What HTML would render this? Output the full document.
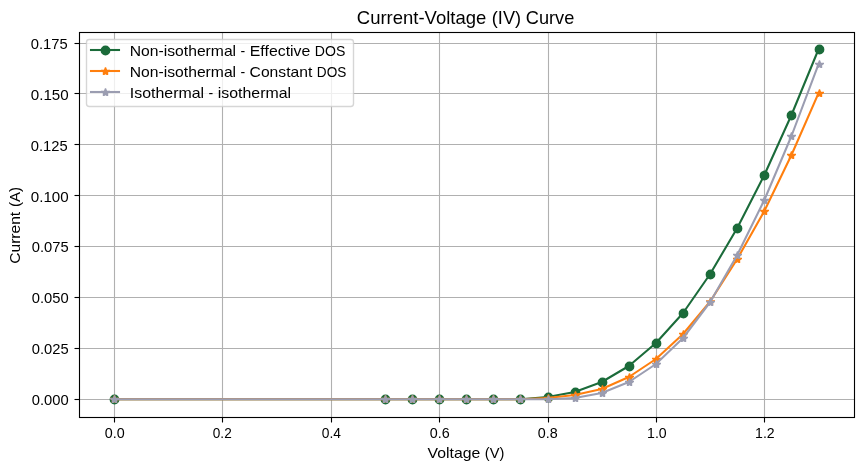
<!DOCTYPE html>
<html lang="en"><head><meta charset="utf-8"><title>Current-Voltage (IV) Curve</title>
<style>html,body{margin:0;padding:0;background:#fff;}body{width:863px;height:470px;overflow:hidden;}svg{display:block;will-change:transform;}text{font-family:"Liberation Sans",sans-serif;fill:#000;}</style>
</head><body>
<svg width="863" height="470" viewBox="0 0 863 470">
<defs><polygon id="st" points="-0.6,-4.25 0.6,-4.25 1.55,-1.68 4.5,-1.68 4.5,-0.5 2.7,0.7 2.7,3.4 1.2,3.4 0,2.75 -1.2,3.4 -2.7,3.4 -2.7,0.7 -4.5,-0.5 -4.5,-1.68 -1.55,-1.68" stroke="none"/>
<circle id="ci" r="4.2" stroke-width="1.389"/></defs>
<rect width="863" height="470" fill="#fff"/>
<g stroke="#b0b0b0" stroke-width="1.11" fill="none">
<line x1="114.5" y1="32.5" x2="114.5" y2="417.5"/>
<line x1="222.5" y1="32.5" x2="222.5" y2="417.5"/>
<line x1="331.5" y1="32.5" x2="331.5" y2="417.5"/>
<line x1="439.5" y1="32.5" x2="439.5" y2="417.5"/>
<line x1="548.5" y1="32.5" x2="548.5" y2="417.5"/>
<line x1="656.5" y1="32.5" x2="656.5" y2="417.5"/>
<line x1="764.5" y1="32.5" x2="764.5" y2="417.5"/>
<line x1="79.5" y1="43.5" x2="854.5" y2="43.5"/>
<line x1="79.5" y1="93.5" x2="854.5" y2="93.5"/>
<line x1="79.5" y1="144.5" x2="854.5" y2="144.5"/>
<line x1="79.5" y1="195.5" x2="854.5" y2="195.5"/>
<line x1="79.5" y1="246.5" x2="854.5" y2="246.5"/>
<line x1="79.5" y1="297.5" x2="854.5" y2="297.5"/>
<line x1="79.5" y1="348.5" x2="854.5" y2="348.5"/>
<line x1="79.5" y1="399.5" x2="854.5" y2="399.5"/>
</g>
<g stroke="#000" stroke-width="1.11" fill="none">
<line x1="114.5" y1="417" x2="114.5" y2="422.5"/>
<line x1="222.5" y1="417" x2="222.5" y2="422.5"/>
<line x1="331.5" y1="417" x2="331.5" y2="422.5"/>
<line x1="439.5" y1="417" x2="439.5" y2="422.5"/>
<line x1="548.5" y1="417" x2="548.5" y2="422.5"/>
<line x1="656.5" y1="417" x2="656.5" y2="422.5"/>
<line x1="764.5" y1="417" x2="764.5" y2="422.5"/>
<line x1="74.5" y1="43.5" x2="80" y2="43.5"/>
<line x1="74.5" y1="93.5" x2="80" y2="93.5"/>
<line x1="74.5" y1="144.5" x2="80" y2="144.5"/>
<line x1="74.5" y1="195.5" x2="80" y2="195.5"/>
<line x1="74.5" y1="246.5" x2="80" y2="246.5"/>
<line x1="74.5" y1="297.5" x2="80" y2="297.5"/>
<line x1="74.5" y1="348.5" x2="80" y2="348.5"/>
<line x1="74.5" y1="399.5" x2="80" y2="399.5"/>
</g>
<polyline points="114.01,399.22 384.99,399.22 412.09,399.22 439.18,399.22 466.28,399.22 493.38,399.22 520.48,399.22 547.58,397.00 574.67,392.00 601.77,382.00 628.87,366.00 655.97,343.00 683.07,313.00 710.16,274.00 737.26,228.00 764.36,175.00 791.46,115.00 818.56,49.22" fill="none" stroke="#1b6b3a" stroke-width="2.083" stroke-linejoin="round" stroke-linecap="square"/>
<g fill="#1b6b3a" stroke="#1b6b3a">
<use href="#ci" x="114.5" y="399.5"/>
<use href="#ci" x="385.5" y="399.5"/>
<use href="#ci" x="412.5" y="399.5"/>
<use href="#ci" x="439.5" y="399.5"/>
<use href="#ci" x="466.5" y="399.5"/>
<use href="#ci" x="493.5" y="399.5"/>
<use href="#ci" x="520.5" y="399.5"/>
<use href="#ci" x="548.5" y="397.5"/>
<use href="#ci" x="575.5" y="392.5"/>
<use href="#ci" x="602.5" y="382.5"/>
<use href="#ci" x="629.5" y="366.5"/>
<use href="#ci" x="656.5" y="343.5"/>
<use href="#ci" x="683.5" y="313.5"/>
<use href="#ci" x="710.5" y="274.5"/>
<use href="#ci" x="737.5" y="228.5"/>
<use href="#ci" x="764.5" y="175.5"/>
<use href="#ci" x="791.5" y="115.5"/>
<use href="#ci" x="819.5" y="49.5"/>
</g>
<polyline points="114.01,399.22 384.99,399.22 412.09,399.22 439.18,399.22 466.28,399.22 493.38,399.22 520.48,399.22 547.58,398.00 574.67,395.00 601.77,389.00 628.87,377.00 655.97,359.00 683.07,334.00 710.16,301.50 737.26,259.00 764.36,211.00 791.46,155.00 818.56,93.00" fill="none" stroke="#ff7f0e" stroke-width="2.083" stroke-linejoin="round" stroke-linecap="square"/>
<g fill="#ff7f0e" stroke="#ff7f0e">
<use href="#st" x="114.5" y="399.5"/>
<use href="#st" x="385.5" y="399.5"/>
<use href="#st" x="412.5" y="399.5"/>
<use href="#st" x="439.5" y="399.5"/>
<use href="#st" x="466.5" y="399.5"/>
<use href="#st" x="493.5" y="399.5"/>
<use href="#st" x="520.5" y="399.5"/>
<use href="#st" x="548.5" y="398.5"/>
<use href="#st" x="575.5" y="395.5"/>
<use href="#st" x="602.5" y="389.5"/>
<use href="#st" x="629.5" y="377.5"/>
<use href="#st" x="656.5" y="359.5"/>
<use href="#st" x="683.5" y="334.5"/>
<use href="#st" x="710.5" y="302.0"/>
<use href="#st" x="737.5" y="259.5"/>
<use href="#st" x="764.5" y="211.5"/>
<use href="#st" x="791.5" y="155.5"/>
<use href="#st" x="819.5" y="93.5"/>
</g>
<polyline points="114.01,399.22 384.99,399.22 412.09,399.22 439.18,399.22 466.28,399.22 493.38,399.22 520.48,399.22 547.58,399.22 574.67,398.00 601.77,393.00 628.87,382.00 655.97,364.00 683.07,338.00 710.16,302.00 737.26,255.00 764.36,200.00 791.46,136.00 818.56,64.00" fill="none" stroke="#9b9db1" stroke-width="2.083" stroke-linejoin="round" stroke-linecap="square"/>
<g fill="#9b9db1" stroke="#9b9db1">
<use href="#st" x="114.5" y="399.5"/>
<use href="#st" x="385.5" y="399.5"/>
<use href="#st" x="412.5" y="399.5"/>
<use href="#st" x="439.5" y="399.5"/>
<use href="#st" x="466.5" y="399.5"/>
<use href="#st" x="493.5" y="399.5"/>
<use href="#st" x="520.5" y="399.5"/>
<use href="#st" x="548.5" y="399.5"/>
<use href="#st" x="575.5" y="398.5"/>
<use href="#st" x="602.5" y="393.5"/>
<use href="#st" x="629.5" y="382.5"/>
<use href="#st" x="656.5" y="364.5"/>
<use href="#st" x="683.5" y="338.5"/>
<use href="#st" x="710.5" y="302.5"/>
<use href="#st" x="737.5" y="255.5"/>
<use href="#st" x="764.5" y="200.5"/>
<use href="#st" x="791.5" y="136.5"/>
<use href="#st" x="819.5" y="64.5"/>
</g>
<rect x="79.5" y="32.5" width="775" height="385" fill="none" stroke="#000" stroke-width="1.11" stroke-linejoin="miter"/>
<rect x="86.5" y="39.5" width="267" height="67" rx="2.78" ry="2.78" fill="#fff" fill-opacity="0.8" stroke="#ccc" stroke-opacity="0.8" stroke-width="1.389"/>
<line x1="91.0" y1="50.00" x2="119.0" y2="50.00" stroke="#1b6b3a" stroke-width="2.083" stroke-linecap="square"/>
<use href="#ci" x="105.5" y="50.50" fill="#1b6b3a" stroke="#1b6b3a"/>
<line x1="91.0" y1="71.00" x2="119.0" y2="71.00" stroke="#ff7f0e" stroke-width="2.083" stroke-linecap="square"/>
<use href="#st" x="105.5" y="71.50" fill="#ff7f0e" stroke="#ff7f0e"/>
<line x1="91.0" y1="92.00" x2="119.0" y2="92.00" stroke="#9b9db1" stroke-width="2.083" stroke-linecap="square"/>
<use href="#st" x="105.5" y="92.50" fill="#9b9db1" stroke="#9b9db1"/>
<text y="55.70" font-size="14.30"><tspan x="129.80" textLength="106.30" lengthAdjust="spacingAndGlyphs">Non-isothermal</tspan> <tspan x="240.60" textLength="4.70" lengthAdjust="spacingAndGlyphs">-</tspan> <tspan x="249.80" textLength="60.50" lengthAdjust="spacingAndGlyphs">Effective</tspan> <tspan x="314.80" textLength="30.50" lengthAdjust="spacingAndGlyphs">DOS</tspan></text>
<text y="76.70" font-size="14.30"><tspan x="129.80" textLength="106.30" lengthAdjust="spacingAndGlyphs">Non-isothermal</tspan> <tspan x="240.60" textLength="4.70" lengthAdjust="spacingAndGlyphs">-</tspan> <tspan x="249.60" textLength="62.70" lengthAdjust="spacingAndGlyphs">Constant</tspan> <tspan x="316.80" textLength="29.50" lengthAdjust="spacingAndGlyphs">DOS</tspan></text>
<text y="97.70" font-size="14.30"><tspan x="129.80" textLength="74.30" lengthAdjust="spacingAndGlyphs">Isothermal</tspan> <tspan x="208.60" textLength="4.70" lengthAdjust="spacingAndGlyphs">-</tspan> <tspan x="217.80" textLength="73.30" lengthAdjust="spacingAndGlyphs">isothermal</tspan></text>
<text y="23.70" font-size="17.80"><tspan x="356.80" textLength="129.50" lengthAdjust="spacingAndGlyphs">Current-Voltage</tspan> <tspan x="491.80" textLength="29.30" lengthAdjust="spacingAndGlyphs">(IV)</tspan> <tspan x="525.80" textLength="48.50" lengthAdjust="spacingAndGlyphs">Curve</tspan></text>
<text y="457.60" font-size="14.30"><tspan x="427.60" textLength="52.70" lengthAdjust="spacingAndGlyphs">Voltage</tspan> <tspan x="484.80" textLength="19.50" lengthAdjust="spacingAndGlyphs">(V)</tspan></text>
<text font-size="14.30" transform="translate(19.5,263.8) rotate(-90)"><tspan x="0.00" y="0" textLength="52.00" lengthAdjust="spacingAndGlyphs">Current</tspan> <tspan x="56.70" y="0" textLength="20.00" lengthAdjust="spacingAndGlyphs">(A)</tspan></text>
<text x="104.80" y="437.90" font-size="14.20" textLength="19.90" lengthAdjust="spacingAndGlyphs" text-anchor="start">0.0</text>
<text x="212.80" y="437.90" font-size="14.20" textLength="18.90" lengthAdjust="spacingAndGlyphs" text-anchor="start">0.2</text>
<text x="321.80" y="437.90" font-size="14.20" textLength="19.20" lengthAdjust="spacingAndGlyphs" text-anchor="start">0.4</text>
<text x="429.80" y="437.90" font-size="14.20" textLength="19.90" lengthAdjust="spacingAndGlyphs" text-anchor="start">0.6</text>
<text x="537.80" y="437.90" font-size="14.20" textLength="19.90" lengthAdjust="spacingAndGlyphs" text-anchor="start">0.8</text>
<text x="647.10" y="437.90" font-size="14.20" textLength="19.60" lengthAdjust="spacingAndGlyphs" text-anchor="start">1.0</text>
<text x="755.10" y="437.90" font-size="14.20" textLength="19.60" lengthAdjust="spacingAndGlyphs" text-anchor="start">1.2</text>
<text x="30.80" y="48.80" font-size="14.20" textLength="36.90" lengthAdjust="spacingAndGlyphs" text-anchor="start">0.175</text>
<text x="30.80" y="99.80" font-size="14.20" textLength="37.90" lengthAdjust="spacingAndGlyphs" text-anchor="start">0.150</text>
<text x="30.80" y="150.80" font-size="14.20" textLength="36.90" lengthAdjust="spacingAndGlyphs" text-anchor="start">0.125</text>
<text x="30.80" y="201.80" font-size="14.20" textLength="37.90" lengthAdjust="spacingAndGlyphs" text-anchor="start">0.100</text>
<text x="31.80" y="251.80" font-size="14.20" textLength="36.90" lengthAdjust="spacingAndGlyphs" text-anchor="start">0.075</text>
<text x="31.80" y="302.80" font-size="14.20" textLength="36.90" lengthAdjust="spacingAndGlyphs" text-anchor="start">0.050</text>
<text x="31.80" y="353.80" font-size="14.20" textLength="36.90" lengthAdjust="spacingAndGlyphs" text-anchor="start">0.025</text>
<text x="31.80" y="404.80" font-size="14.20" textLength="36.90" lengthAdjust="spacingAndGlyphs" text-anchor="start">0.000</text>
</svg>
</body></html>
